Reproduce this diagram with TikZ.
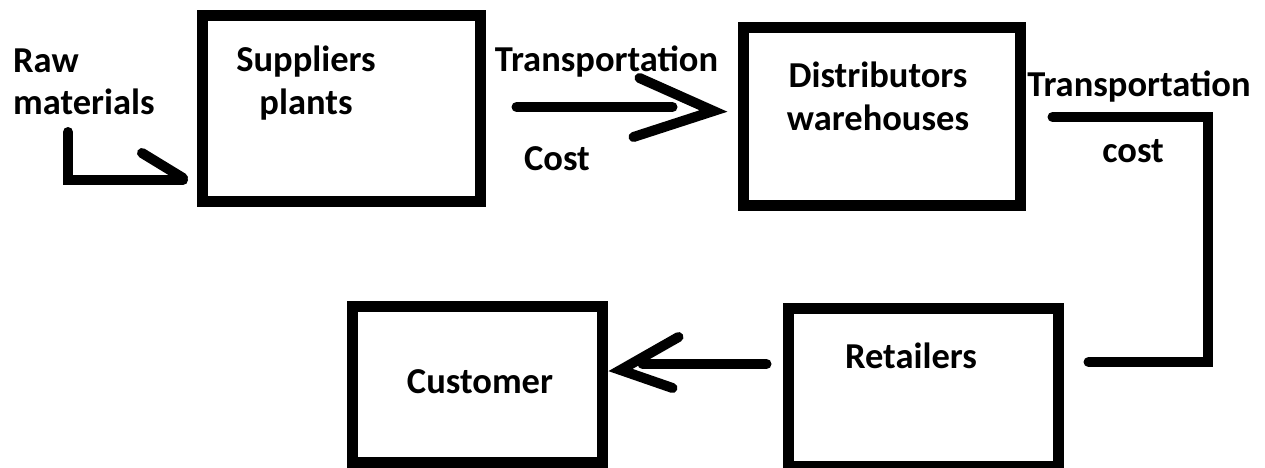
\documentclass[tikz,border=0pt]{standalone}
\usepackage{fontspec}
\setmainfont{Carlito}
\begin{document}
\begin{tikzpicture}[x=1pt,y=-1pt,
  box/.style={draw,line width=11pt,inner sep=0pt},
  lbl/.style={font=\fontsize{36.5}{43}\selectfont\bfseries,inner sep=0pt,anchor=base},
  conn/.style={line width=10pt,line cap=round}]
\useasboundingbox (0,0) rectangle (1265,468);
\node[box,minimum width=278pt,minimum height=185pt] (sup) at (341,108.5) {};
\node[box,minimum width=277pt,minimum height=177pt] (dist) at (881.5,116.5) {};
\node[box,minimum width=270pt,minimum height=158pt] (ret) at (923,387) {};
\node[box,minimum width=250pt,minimum height=156pt] (cust) at (477,384) {};
\node[lbl,anchor=base west,align=left] (raw) at (13,115) {Raw\\materials};
\node[lbl,align=center] (supl) at (306,114) {Suppliers\\plants};
\node[lbl,align=center] (distl) at (878,130) {Distributors\\warehouses};
\node[lbl] (retl) at (911,368) {Retailers};
\node[lbl] (custl) at (480,393) {Customer};
\node[lbl] (tc1) at (606.5,72) {Transportation};
\node[lbl] (cost1) at (557,170) {Cost};
\node[lbl] (tc2) at (1139,97) {Transportation};
\node[lbl] (cost2) at (1133,162) {cost};
% raw materials into the plants
\coordinate (r1) at (68,132);
\draw[conn] (r1) |- ++(115,48) coordinate (r2);
\draw[conn] (r2) ++(-41,-27) -- ++(41,25);
% plants to warehouses
\draw[conn] (sup.east) ++(31,-1.5) -- ++(156,0);
\draw[conn] (dist.west) ++(-24,-5.5) coordinate (t1) ++(-74,-33) -- (t1) -- ++(-80,26);
% warehouses to retailers
\draw[conn] (dist.east) ++(27,0.5) -- ++(155,0) |- ([xshift=25pt,yshift=25pt]ret.east);
% retailers to customer
\draw[conn] (ret.west) ++(-16,-23) -- ++(-124,0);
\draw[conn] (cust.east) ++(13,-14) coordinate (t3) ++(58,-33) -- (t3) -- ++(52,18);
\end{tikzpicture}
\end{document}
